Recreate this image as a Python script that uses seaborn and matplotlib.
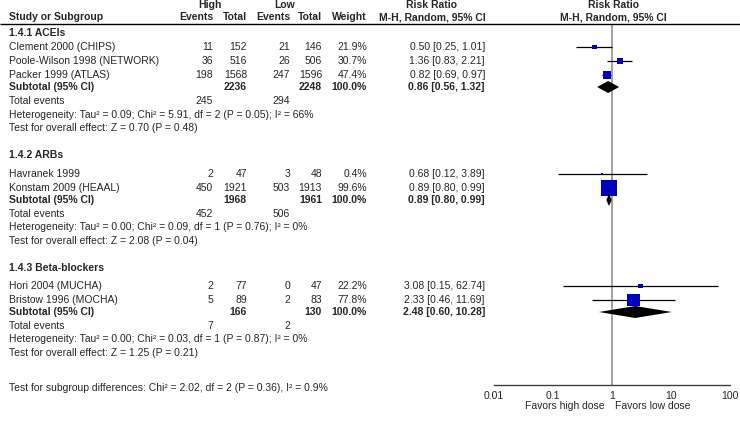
"""
Forest plot: high vs low dose, risk ratio by drug class
"""

import numpy as np
import pandas as pd
import matplotlib
matplotlib.use("Agg")
import matplotlib.pyplot as plt
import seaborn as sns

sns.set_style("white")
plt.rcParams['font.family'] = ['Liberation Sans', 'DejaVu Sans']
plt.rcParams['font.size'] = 7.5

# Data
studies = ["Clement 2000 (CHIPS)", "Poole-Wilson 1998 (NETWORK)", "Packer 1999 (ATLAS)",
           "Havranek 1999", "Konstam 2009 (HEAAL)",
           "Hori 2004 (MUCHA)", "Bristow 1996 (MOCHA)"]
high_events = [11, 36, 198, 2, 450, 2, 5]
high_total = [152, 516, 1568, 47, 1921, 77, 89]
low_events = [21, 26, 247, 3, 503, 0, 2]
low_total = [146, 506, 1596, 48, 1913, 47, 83]
weight = [21.9, 30.7, 47.4, 0.4, 99.6, 22.2, 77.8]
rr = [0.50, 1.36, 0.82, 0.68, 0.89, 3.08, 2.33]
ci_lo = [0.25, 0.83, 0.69, 0.12, 0.80, 0.15, 0.46]
ci_hi = [1.01, 2.21, 0.97, 3.89, 0.99, 62.74, 11.69]

subgroups = ["1.4.1 ACEIs", "1.4.2 ARBs", "1.4.3 Beta-blockers"]
sub_high_total = [2236, 1968, 166]
sub_low_total = [2248, 1961, 130]
sub_high_events = [245, 452, 7]
sub_low_events = [294, 506, 2]
sub_rr = [0.86, 0.89, 2.48]
sub_lo = [0.56, 0.80, 0.60]
sub_hi = [1.32, 0.99, 10.28]
het_text = [
    "Heterogeneity: Tau\u00b2 = 0.09; Chi\u00b2 = 5.91, df = 2 (P = 0.05); I\u00b2 = 66%",
    "Heterogeneity: Tau\u00b2 = 0.00; Chi\u00b2 = 0.09, df = 1 (P = 0.76); I\u00b2 = 0%",
    "Heterogeneity: Tau\u00b2 = 0.00; Chi\u00b2 = 0.03, df = 1 (P = 0.87); I\u00b2 = 0%",
]
effect_text = [
    "Test for overall effect: Z = 0.70 (P = 0.48)",
    "Test for overall effect: Z = 2.08 (P = 0.04)",
    "Test for overall effect: Z = 1.25 (P = 0.21)",
]
subgroup_diff = "Test for subgroup differences: Chi\u00b2 = 2.02, df = 2 (P = 0.36), I\u00b2 = 0.9%"
tick_values = [0.01, 0.1, 1, 10, 100]
tick_labels = ["0.01", "0.1", "1", "10", "100"]

# Layout (pixel rows)
W, H = 740, 421
group_y = [33, 155, 268]
study_y = [47, 61, 75, 174, 188, 286, 300]
subtotal_y = [87, 200, 312]
col_he, col_ht, col_le, col_lt, col_w, col_rr = 213, 247, 290, 322, 367, 485
blue = '#0000C0'

df = pd.DataFrame({'study': studies, 'rr': rr, 'lo': ci_lo, 'hi': ci_hi,
                   'weight': weight, 'y': study_y})
side_px = 1.5 + 0.145 * df['weight']
df['s'] = (side_px * 0.72) ** 2

fig = plt.figure(figsize=(W / 100, H / 100), dpi=100)
tx = fig.add_axes([0, 0, 1, 1])
tx.set_xlim(0, W)
tx.set_ylim(H, 0)
tx.axis('off')

bold = dict(fontweight='bold')

# header
tx.text(210, 5, "High", ha='center', va='center', **bold)
tx.text(285, 5, "Low", ha='center', va='center', **bold)
tx.text(432, 5, "Risk Ratio", ha='center', va='center', **bold)
tx.text(613, 5, "Risk Ratio", ha='center', va='center', **bold)
tx.text(9, 17, "Study or Subgroup", ha='left', va='center', **bold)
for x, lab in [(col_he, "Events"), (col_ht, "Total"), (col_le, "Events"),
               (col_lt, "Total"), (col_w, "Weight")]:
    tx.text(x, 17, lab, ha='right', va='center', **bold)
tx.text(432, 17, "M-H, Random, 95% CI", ha='center', va='center', **bold)
tx.text(613, 17, "M-H, Random, 95% CI", ha='center', va='center', **bold)
tx.hlines(24, 0, W, color='black', lw=1.0)

# study rows
for i, row in df.iterrows():
    y = row['y']
    tx.text(9, y, row['study'], ha='left', va='center')
    tx.text(col_he, y, str(high_events[i]), ha='right', va='center')
    tx.text(col_ht, y, str(high_total[i]), ha='right', va='center')
    tx.text(col_le, y, str(low_events[i]), ha='right', va='center')
    tx.text(col_lt, y, str(low_total[i]), ha='right', va='center')
    tx.text(col_w, y, f"{weight[i]:.1f}%", ha='right', va='center')
    tx.text(col_rr, y, f"{rr[i]:.2f} [{ci_lo[i]:.2f}, {ci_hi[i]:.2f}]", ha='right', va='center')

# subgroup rows
for g in range(3):
    tx.text(9, group_y[g], subgroups[g], ha='left', va='center', **bold)
    y = subtotal_y[g]
    tx.text(9, y, "Subtotal (95% CI)", ha='left', va='center', **bold)
    tx.text(col_ht, y, str(sub_high_total[g]), ha='right', va='center', **bold)
    tx.text(col_lt, y, str(sub_low_total[g]), ha='right', va='center', **bold)
    tx.text(col_w, y, "100.0%", ha='right', va='center', **bold)
    tx.text(col_rr, y, f"{sub_rr[g]:.2f} [{sub_lo[g]:.2f}, {sub_hi[g]:.2f}]",
            ha='right', va='center', **bold)
    tx.text(9, y + 14, "Total events", ha='left', va='center')
    tx.text(col_he, y + 14, str(sub_high_events[g]), ha='right', va='center')
    tx.text(col_le, y + 14, str(sub_low_events[g]), ha='right', va='center')
    tx.text(9, y + 27.5, het_text[g], ha='left', va='center')
    tx.text(9, y + 41, effect_text[g], ha='left', va='center')

tx.text(9, 388, subgroup_diff, ha='left', va='center')
tx.text(605, 406, "Favors high dose", ha='right', va='center')
tx.text(615, 406, "Favors low dose", ha='left', va='center')

# forest panel
ax = fig.add_axes([494 / W, 0, (730 - 494) / W, 1])
ax.set_xscale('log')
ax.set_xlim(0.01, 100)
ax.set_ylim(H, 0)
ax.patch.set_alpha(0)
for sp in ['top', 'left', 'right']:
    ax.spines[sp].set_visible(False)
ax.spines['bottom'].set_position(('data', 385))
ax.spines['bottom'].set_color('#404040')
ax.spines['bottom'].set_linewidth(1.0)
ax.set_yticks([])
ax.set_xticks(tick_values)
ax.set_xticklabels(tick_labels)
ax.xaxis.set_minor_locator(matplotlib.ticker.NullLocator())
ax.tick_params(axis='x', direction='inout', length=5, width=1.0, color='#404040',
               pad=1.5, labelsize=7.5)

ax.vlines(1, 25, 385, color='#999999', lw=1.3, zorder=1)
ax.hlines(df['y'], df['lo'], df['hi'], color='black', lw=0.9, zorder=2)
sns.scatterplot(data=df, x='rr', y='y', s=df['s'].values, marker='s', color=blue,
                linewidth=0, ax=ax, zorder=3, legend=False)

for g in range(3):
    y = subtotal_y[g]
    ax.fill([sub_lo[g], sub_rr[g], sub_hi[g], sub_rr[g]], [y, y - 6, y, y + 6],
            color='black', lw=0, zorder=3)

ax.set_xlabel('')
ax.set_ylabel('')

plt.savefig('out.png', dpi=100)
